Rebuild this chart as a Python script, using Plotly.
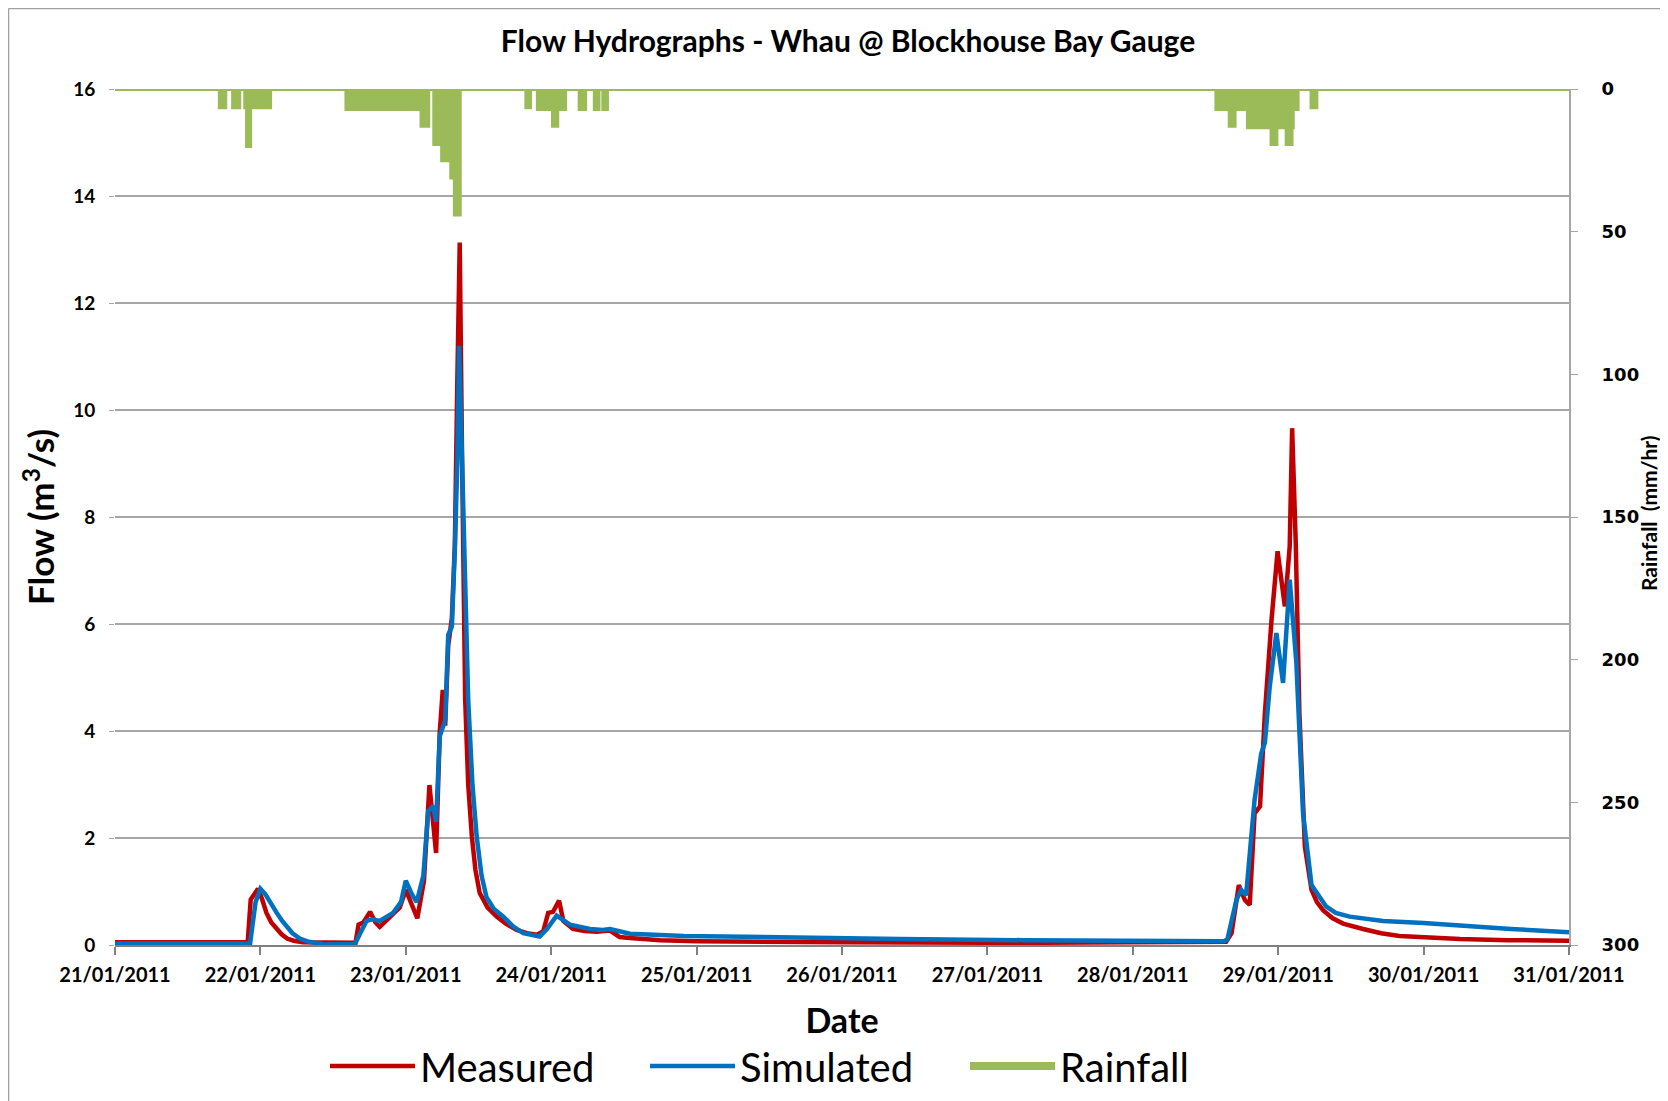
import pandas as pd
import plotly.graph_objects as go

START = pd.Timestamp("2011-01-21 00:00")

# ---- Measured flow (hours since 21/01/2011 00:00, m3/s) ----
meas_hours = [0, 21.9, 22.4, 23.0, 23.6, 24.3, 25.0, 25.8, 26.7, 27.5, 28.4, 29.5, 31.0, 35.0,
              39.7, 40.2, 41.0, 42.1, 43.0, 43.7, 44.7, 45.7, 47.0, 48.0, 49.0, 49.9, 51.0, 51.4,
              51.9, 52.5, 53.0, 53.6, 54.1, 54.5, 55.0, 55.6, 56.1, 56.5, 56.9, 57.3, 57.8, 58.3,
              58.9, 59.5, 60.2, 61.5, 63.0, 64.5, 66.3, 68.0, 69.6, 70.7, 71.5, 72.3, 73.3, 74.0,
              75.6, 77.5, 79.5, 81.7, 83.3, 85.0, 90, 96, 108, 120, 150, 182.9, 183.4, 184.3,
              185.5, 186.5, 187.3, 188.1, 189.0, 189.8, 190.9, 191.9, 193.1, 193.9, 194.3, 194.9,
              195.5, 196.4, 197.5, 198.4, 199.4, 201.0, 202.7, 206.0, 209.0, 212.0, 216.0, 222.0,
              230.0, 240]
meas_flow = [0.05, 0.05, 0.85, 0.95, 1.05, 0.85, 0.6, 0.42, 0.3, 0.2, 0.12, 0.08, 0.05, 0.04,
             0.04, 0.38, 0.42, 0.62, 0.42, 0.34, 0.45, 0.56, 0.7, 1.03, 0.75, 0.5, 1.2, 2.2,
             2.99, 2.3, 1.72, 3.97, 4.77, 4.1, 5.6, 6.1, 7.5, 10.5, 13.13, 9.0, 4.6, 3.0,
             2.03, 1.4, 0.97, 0.7, 0.53, 0.4, 0.28, 0.22, 0.19, 0.26, 0.6, 0.62, 0.83, 0.45,
             0.3, 0.26, 0.25, 0.27, 0.15, 0.13, 0.09, 0.07, 0.05, 0.05, 0.04, 0.04, 0.06, 0.22,
             1.12, 0.84, 0.75, 2.46, 2.59, 4.33, 6.08, 7.36, 6.33, 7.45, 9.66, 7.5,
             4.33, 1.84, 1.03, 0.8, 0.65, 0.5, 0.4, 0.3, 0.22, 0.17, 0.14, 0.11,
             0.09, 0.08]

# ---- Simulated flow ----
sim_hours = [0, 22.3, 23.2, 24.0, 24.8, 25.8, 26.7, 27.6, 28.5, 29.3, 30.5, 32.0, 34.6, 39.6,
             41.5, 42.5, 43.7, 45.9, 47.2, 48.0, 49.0, 49.8, 50.9, 51.7, 52.5, 53.0, 53.6, 54.5,
             55.0, 55.6, 56.1, 56.5, 56.8, 57.3, 57.8, 58.3, 59.0, 59.7, 60.5, 61.3, 62.5, 64.1,
             65.7, 67.4, 70.1, 71.3, 72.9, 75.1, 78.4, 80.5, 81.7, 85.0, 93.9, 108, 129.5, 150,
             177, 183.0, 183.6, 185.1, 185.9, 186.7, 188.1, 189.2, 189.8, 190.6, 191.7, 192.8,
             193.9, 195.0, 196.1, 197.5, 199.9, 201.5, 203.8, 206.6, 209.3, 216.0, 222.0, 230.4,
             240]
sim_flow = [0.03, 0.03, 0.8, 1.05, 0.95, 0.75, 0.6, 0.45, 0.32, 0.22, 0.12, 0.06, 0.01, 0.02,
            0.45, 0.48, 0.45, 0.6, 0.8, 1.2, 0.95, 0.8, 1.3, 2.5, 2.6, 2.3, 3.9, 4.2,
            5.8, 5.95, 7.4, 9.0, 11.2, 9.0, 6.5, 4.58, 3.0, 2.03, 1.3, 0.9, 0.68, 0.53,
            0.35, 0.22, 0.16, 0.3, 0.55, 0.38, 0.3, 0.28, 0.3, 0.21, 0.17, 0.14, 0.11, 0.09,
            0.075, 0.07, 0.1, 0.84, 1.03, 0.93, 2.71, 3.58, 3.78, 4.83, 5.83, 4.9,
            6.83, 5.27, 2.46, 1.12, 0.72, 0.6, 0.53, 0.48, 0.45, 0.41, 0.36, 0.3,
            0.24]

# ---- Rainfall (step start hours, mm/hr held until next step) ----
rain_hours = [0, 17.3, 18.2, 19.5, 20.5, 21.5, 21.8, 22.3, 25.6, 38.2, 50.6, 51.7, 52.7, 53.6,
              54.0, 55.0, 55.5, 56.1, 56.9, 67.9, 68.5, 69.8, 72.3, 73.0, 73.4, 73.7, 74.3,
              76.7, 77.6, 79.2, 79.8, 80.6, 81.2, 181.8, 184.0, 184.8, 187.0, 190.9, 191.7,
              193.4, 194.2, 194.4, 195.2, 197.5, 198.3, 240]
rain_mm = [0, 6.4, 0, 6.4, 0, 6.4, 20, 6.4, 0, 7, 12.9, 0, 19.3, 0,
           25, 16, 31, 44, 0, 6.4, 0, 7, 12.9, 7, 0, 7, 0,
           7, 0, 7, 0, 7, 0, 7, 12.9, 7, 13.4, 19.3, 13.4,
           19.3, 13.4, 7, 0, 6.4, 0, 0]

flow_ticks = [0, 2, 4, 6, 8, 10, 12, 14, 16]
rain_ticks = [0, 50, 100, 150, 200, 250, 300]


def to_time(hours):
    return START + pd.to_timedelta(hours, unit="h")


OFF = 8  # page body margin
W, H = 1660, 1093
L, T = 115 - OFF, 89 - OFF
R = W - (1569 - OFF)
B = H - (945 - OFF)
pw, ph = W - L - R, H - T - B


def px(xpage):
    return (xpage - OFF - L) / pw


def py(ypage):
    return (H - B - (ypage - OFF)) / ph


FONT = "Lato"
RED, BLUE, GREEN = "#C00000", "#0070C0", "#9BBB59"

fig = go.Figure()
fig.add_trace(go.Scatter(x=to_time(meas_hours), y=meas_flow, name="Measured", mode="lines",
                         line=dict(color=RED, width=4.5), yaxis="y"))
fig.add_trace(go.Scatter(x=to_time(sim_hours), y=sim_flow, name="Simulated", mode="lines",
                         line=dict(color=BLUE, width=4.5), yaxis="y"))
fig.add_trace(go.Scatter(x=to_time(rain_hours), y=rain_mm, name="Rainfall", mode="lines",
                         line=dict(color=GREEN, width=4, shape="hv"), fill="tozeroy",
                         fillcolor=GREEN, yaxis="y2"))

fig.update_layout(
    width=W, height=H,
    margin=dict(l=L, r=R, t=T, b=B, autoexpand=False),
    paper_bgcolor="white", plot_bgcolor="white",
    font=dict(family=FONT, color="#000000"),
    title=dict(text="<b>Flow Hydrographs - Whau @ Blockhouse Bay Gauge</b>",
               x=px(848), xref="paper", xanchor="center",
               y=1 - 33.5 / H, yanchor="middle",
               font=dict(family=FONT, size=30, color="#000000")),
    xaxis=dict(type="date", range=[START, START + pd.Timedelta(hours=240)],
               dtick=86400000, tick0=START, tickformat="%d/%m/%Y",
               ticks="outside", ticklen=8, tickcolor="#808080", tickwidth=1.5,
               showline=True, linecolor="#808080", linewidth=2, ticklabelstandoff=3,
               showgrid=False, zeroline=False, automargin=False,
               tickfont=dict(family=FONT, size=20, weight="bold"),
               title=dict(text="<b>Date</b>", font=dict(family=FONT, size=34), standoff=24)),
    yaxis=dict(range=[0, 16], tickvals=flow_ticks, showgrid=True, gridcolor="#A6A6A6",
               gridwidth=1.5, zeroline=False, showline=False, automargin=False,
               ticks="outside", ticklen=5, tickcolor="#A6A6A6", ticklabelstandoff=10,
               tickfont=dict(family=FONT, size=19, weight="bold"),
               title=dict(text="<b>Flow (m<sup>3</sup>/s)</b>", font=dict(family=FONT, size=35),
                          standoff=7)),
    yaxis2=dict(range=[300, 0], tickvals=rain_ticks, overlaying="y", side="right",
                showgrid=False, zeroline=False, showline=True, linecolor="#A6A6A6",
                linewidth=2, ticks="outside", ticklen=7, tickcolor="#A6A6A6",
                ticklabelstandoff=20, automargin=False,
                tickfont=dict(family="DejaVu Sans", size=18, weight="bold")),
    legend=dict(orientation="h", x=px(805), xanchor="center", y=py(1066), yanchor="middle",
                font=dict(family=FONT, size=40), itemwidth=85,
                entrywidth=220, entrywidthmode="pixels",
                bgcolor="rgba(0,0,0,0)", traceorder="normal"),
    showlegend=True,
)

# secondary axis title
fig.add_annotation(text="<b>Rainfall  (mm/hr)</b>", xref="paper", yref="paper",
                   x=px(1648), y=py(514), xanchor="center", yanchor="middle",
                   textangle=-90, showarrow=False, font=dict(family=FONT, size=21))

# chart-area frame (top and left edges)
fig.add_shape(type="line", xref="paper", yref="paper",
              x0=px(OFF + 0.5), x1=px(OFF + 0.5), y0=py(H + OFF), y1=py(OFF + 0.5),
              line=dict(color="#A0A0A0", width=1.5), layer="below")
fig.add_shape(type="line", xref="paper", yref="paper",
              x0=px(OFF + 0.5), x1=px(W + OFF), y0=py(OFF + 0.5), y1=py(OFF + 0.5),
              line=dict(color="#A0A0A0", width=1.5), layer="below")

fig.write_html("out.html")
